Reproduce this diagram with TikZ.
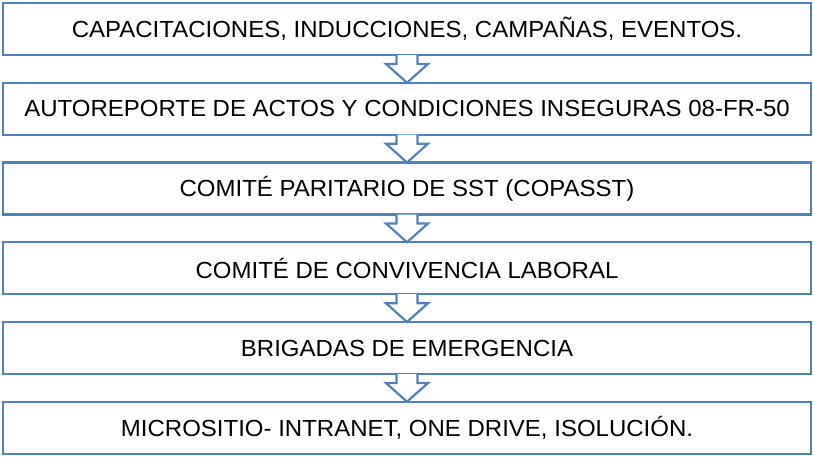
\documentclass[tikz,border=0pt]{standalone}
\usepackage{fontspec}
\usepackage{graphicx}
\setmainfont{Liberation Sans}
\usetikzlibrary{calc}
\definecolor{boxblue}{RGB}{79,129,189}
\newcommand{\wide}[1]{\scalebox{1.03}[1]{#1}}
\tikzset{
  stepbox/.style={draw=boxblue, line width=2.4pt, fill=white, minimum width=808pt, minimum height=52pt,
    inner sep=0pt, outer sep=0pt, font=\fontsize{23.3}{27}\selectfont, text=black},
  downarrow/.style={draw=boxblue, line width=2.2pt, fill=white, line join=miter}
}
\newcommand{\flowarrow}[2]{%
  \draw[downarrow] ($(#1.south)+(-10.5,0)$) -- ($(#1.south)+(-10.5,9)$) -- ($(#1.south)+(-21,9)$)
    -- (#2.north) -- ($(#1.south)+(21,9)$) -- ($(#1.south)+(10.5,9)$) -- ($(#1.south)+(10.5,0)$);}
\begin{document}
\begin{tikzpicture}[x=1pt,y=-1pt]
\useasboundingbox (0,0) rectangle (813,456);
\node[stepbox] (b1) at (407,29) {\wide{CAPACITACIONES, INDUCCIONES, CAMPAÑAS, EVENTOS.}};
\node[stepbox] (b2) at (407,108.7) {\wide{AUTOREPORTE DE ACTOS Y CONDICIONES INSEGURAS 08-FR-50}};
\node[stepbox] (b3) at (407,188.5) {\wide{COMITÉ PARITARIO DE SST (COPASST)}};
\node[stepbox] (b4) at (407,268.2) {\wide{COMITÉ DE CONVIVENCIA LABORAL}};
\node[stepbox] (b5) at (407,348) {\wide{BRIGADAS DE EMERGENCIA}};
\node[stepbox] (b6) at (407,427.7) {\wide{MICROSITIO- INTRANET, ONE DRIVE, ISOLUCIÓN.}};
\flowarrow{b1}{b2}
\flowarrow{b2}{b3}
\flowarrow{b3}{b4}
\flowarrow{b4}{b5}
\flowarrow{b5}{b6}
\end{tikzpicture}
\end{document}
